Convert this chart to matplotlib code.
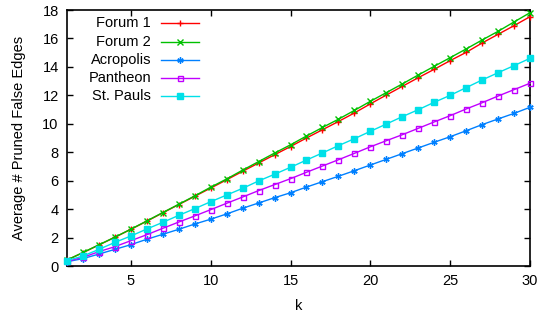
import matplotlib
matplotlib.use("Agg")
import matplotlib.pyplot as plt
import numpy as np

plt.rcParams['font.family'] = ['Liberation Sans', 'DejaVu Sans']

k = list(range(1, 31))
forum1 = [0.42, 0.94, 1.48, 2.02, 2.58, 3.15, 3.74, 4.32, 4.90, 5.48,
          6.06, 6.66, 7.24, 7.82, 8.40, 9.00, 9.58, 10.16, 10.76, 11.40,
          12.02, 12.63, 13.24, 13.83, 14.44, 15.02, 15.68, 16.29, 16.90, 17.53]
forum2 = [0.42, 0.95, 1.49, 2.03, 2.59, 3.17, 3.76, 4.34, 4.93, 5.54,
          6.12, 6.74, 7.34, 7.94, 8.52, 9.14, 9.74, 10.32, 10.94, 11.58,
          12.19, 12.80, 13.43, 14.04, 14.65, 15.26, 15.89, 16.50, 17.16, 17.81]
acropolis = [0.30, 0.52, 0.84, 1.17, 1.50, 1.88, 2.23, 2.58, 2.95, 3.29,
             3.66, 4.06, 4.43, 4.80, 5.15, 5.55, 5.93, 6.31, 6.70, 7.10,
             7.50, 7.90, 8.30, 8.70, 9.09, 9.51, 9.94, 10.34, 10.73, 11.16]
pantheon = [0.33, 0.61, 1.01, 1.36, 1.78, 2.20, 2.65, 3.09, 3.52, 3.96,
            4.41, 4.85, 5.30, 5.72, 6.14, 6.59, 7.03, 7.47, 7.92, 8.38,
            8.81, 9.23, 9.68, 10.13, 10.57, 11.04, 11.48, 11.95, 12.40, 12.85]
stpauls = [0.38, 0.70, 1.17, 1.66, 2.11, 2.60, 3.07, 3.56, 4.03, 4.52,
           4.99, 5.46, 5.98, 6.45, 6.94, 7.45, 7.95, 8.46, 8.95, 9.47,
           9.98, 10.50, 10.99, 11.51, 12.00, 12.54, 13.08, 13.59, 14.09, 14.60]

names = ["Forum 1", "Forum 2", "Acropolis", "Pantheon", "St. Pauls"]
series = [forum1, forum2, acropolis, pantheon, stpauls]
colors = ["#ff0000", "#00c000", "#0080ff", "#c000ff", "#00e0e8"]
markers = ["+", "x", "*", "s", "s"]
mfill = [True, True, True, False, True]
msize = [4.5, 4.0, 4.5, 3.6, 4.0]

fig = plt.figure(figsize=(5.41, 3.2), dpi=100)
ax = fig.add_axes([67/541, 54/320, 463/541, 256/320])

def style_kwargs(i):
    kw = dict(color=colors[i], marker=markers[i], markersize=msize[i], linewidth=1.0,
              markeredgewidth=1.0)
    if markers[i] == "*":
        kw['marker'] = (6, 2, 0)
    if not mfill[i]:
        kw['markerfacecolor'] = 'none'
    return kw

for i, (name, s) in enumerate(zip(names, series)):
    ax.plot(k, s, clip_on=False, zorder=3, **style_kwargs(i))

# manual gnuplot-style legend
for i, name in enumerate(names):
    ypx = 23.3 + 18.2 * i
    ya = (266 - ypx) / 256
    ax.text((151 - 67) / 463, ya, name, transform=ax.transAxes, ha='right', va='center',
            fontsize=10.5)
    ax.plot([(161 - 67) / 463, (199 - 67) / 463], [ya, ya], transform=ax.transAxes,
            color=colors[i], linewidth=1.0)
    kw = style_kwargs(i)
    kw['linewidth'] = 0
    ax.plot([(180 - 67) / 463], [ya], transform=ax.transAxes, **kw)

ax.set_xlim(1, 30)
ax.set_ylim(0, 18)
ax.set_xticks([5, 10, 15, 20, 25, 30])
ax.set_yticks(range(0, 19, 2))
ax.tick_params(direction='in', top=True, right=True, length=4, width=1, labelsize=10.5,
               pad=6)
for sp in ax.spines.values():
    sp.set_linewidth(1.2)
ax.set_xlabel("k", fontsize=10.5, labelpad=8)
ax.set_ylabel("Average # Pruned False Edges", fontsize=10.5, labelpad=12)

fig.savefig("out.png", dpi=100)
